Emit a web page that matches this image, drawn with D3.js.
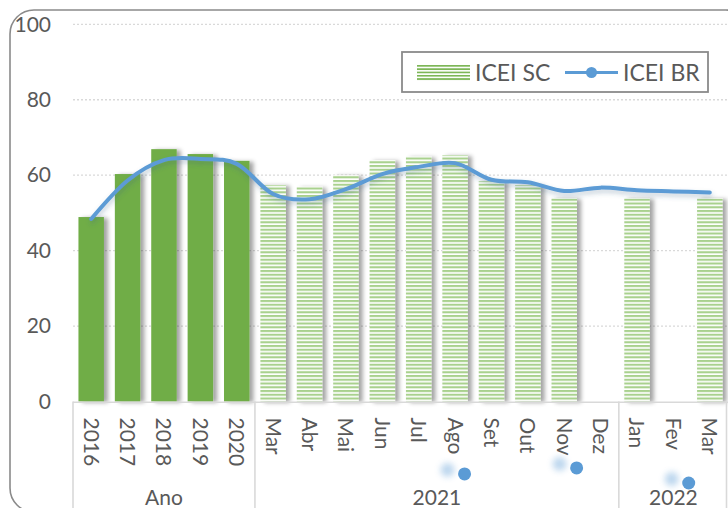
<!DOCTYPE html>
<html>
<head>
<meta charset="utf-8">
<script src="https://cdn.jsdelivr.net/npm/d3@7"></script>
<style>
  html, body { margin: 0; padding: 0; background: #fff; }
  svg { display: block; }
  text { font-family: Lato, "Open Sans", sans-serif; fill: #595959; }
</style>
</head>
<body>
<svg id="chart" width="728" height="508"></svg>
<script>
// Category labels along the x axis (annual values first, then monthly)
const categories = ["2016", "2017", "2018", "2019", "2020",
  "Mar", "Abr", "Mai", "Jun", "Jul", "Ago", "Set", "Out", "Nov", "Dez",
  "Jan", "Fev", "Mar"];

// Category groups of the two-level axis: label and number of categories
const groupLabels = ["Ano", "2021", "2022"];
const groupSizes = [5, 10, 3];

// ICEI SC (bars); null where there is no reading
const iceiSC = [48.9, 60.3, 66.9, 65.6, 63.8,
  57.4, 56.9, 60.0, 64.0, 64.9, 65.3, 58.4, 57.4, 53.9, null,
  53.9, null, 53.9];

// ICEI BR (smoothed line)
const iceiBR = [48.4, 58.6, 64.0, 64.3, 63.0,
  55.0, 53.6, 56.3, 60.3, 62.2, 63.2, 58.8, 58.1, 55.8, 56.7,
  56.0, 55.7, 55.4];

// Loose ICEI BR markers below the axis: fractional category position and value
const looseMarkerPos = [10.76, 13.84, 16.92];
const looseMarkerVal = [-19.2, -17.6, -21.6];

const yTicks = [0, 20, 40, 60, 80, 100];
const legendLabels = ["ICEI SC", "ICEI BR"];

const svg = d3.select("#chart");
const W = 728, H = 508;
const plot = { left: 73, right: 728, top: 24.3, bottom: 401.5 };

const blue = "#5B9BD5";
const green = "#70AD47";
const stripe = "#A9D18E";
const grid = "#D9D9D9";
const fontSize = 21;

const idx = d3.range(categories.length);
const x = d3.scaleBand().domain(idx).range([plot.left, plot.right])
  .paddingInner(0.3).paddingOuter(0.15);
const xPos = d3.scaleLinear().domain([0, categories.length])
  .range([plot.left, plot.right]);
const y = d3.scaleLinear().domain([0, 100]).range([plot.bottom, plot.top]);

// ---- definitions: stripes and shadows
const defs = svg.append("defs");
const pat = defs.append("pattern").attr("id", "hstripe")
  .attr("patternUnits", "userSpaceOnUse").attr("width", 8).attr("height", 3.75);
pat.append("rect").attr("width", 8).attr("height", 3.75).attr("fill", "#fff");
pat.append("rect").attr("width", 8).attr("height", 2.1).attr("fill", stripe);

const lpat = defs.append("pattern").attr("id", "hstripeLegend")
  .attr("patternUnits", "userSpaceOnUse").attr("width", 8).attr("height", 3.3)
  .attr("y", 65);
lpat.append("rect").attr("width", 8).attr("height", 3.3).attr("fill", "#fff");
lpat.append("rect").attr("width", 8).attr("height", 1.7).attr("fill", "#7DB657");

const bs = defs.append("filter").attr("id", "barShadow")
  .attr("x", "-20%").attr("y", "-10%").attr("width", "160%").attr("height", "130%");
bs.append("feDropShadow").attr("dx", 4).attr("dy", 1).attr("stdDeviation", 2.2)
  .attr("flood-color", "#000").attr("flood-opacity", 0.36);

const ls = defs.append("filter").attr("id", "lineShadow")
  .attr("x", "-10%").attr("y", "-30%").attr("width", "120%").attr("height", "160%");
ls.append("feDropShadow").attr("dx", 1).attr("dy", 3).attr("stdDeviation", 2.5)
  .attr("flood-color", "#3a5f80").attr("flood-opacity", 0.3);

const blur = defs.append("filter").attr("id", "softBlur")
  .attr("x", "-100%").attr("y", "-100%").attr("width", "300%").attr("height", "300%");
blur.append("feGaussianBlur").attr("stdDeviation", 3);

// ---- chart frame (right and lower edges run past the view)
svg.append("rect").attr("x", 10).attr("y", 10)
  .attr("width", 740).attr("height", 502).attr("rx", 24)
  .attr("fill", "#fff").attr("stroke", "#8A8A8A").attr("stroke-width", 1.6);

// ---- horizontal gridlines
svg.append("g").selectAll("line").data(yTicks.filter(d => d > 0)).join("line")
  .attr("x1", plot.left).attr("x2", plot.right)
  .attr("y1", d => y(d)).attr("y2", d => y(d))
  .attr("stroke", grid).attr("stroke-width", 1.3).attr("stroke-dasharray", "2,2");

// ---- y axis labels
const yAxis = d3.axisLeft(y).tickValues(yTicks).tickSize(0).tickPadding(0);
svg.append("g").attr("transform", "translate(51,0)").call(yAxis)
  .call(g => g.select(".domain").remove())
  .call(g => g.selectAll("text").attr("font-size", fontSize)
    .attr("font-family", "Lato, sans-serif").attr("fill", "#595959"));

// ---- bars
svg.append("g").selectAll("rect")
  .data(idx.filter(i => iceiSC[i] != null)).join("rect")
  .attr("x", i => x(i)).attr("width", x.bandwidth())
  .attr("y", i => y(iceiSC[i])).attr("height", i => y(0) - y(iceiSC[i]))
  .attr("fill", i => i < groupSizes[0] ? green : "url(#hstripe)")
  .attr("filter", "url(#barShadow)");

// ---- x axis: baseline, group separators, labels
svg.append("line").attr("x1", plot.left).attr("x2", plot.right)
  .attr("y1", plot.bottom + 0.8).attr("y2", plot.bottom + 0.8)
  .attr("stroke", grid).attr("stroke-width", 1.6);

const bounds = [0];
groupSizes.forEach(n => bounds.push(bounds[bounds.length - 1] + n));
svg.append("g").selectAll("line").data(bounds).join("line")
  .attr("x1", b => Math.min(xPos(b), W - 1.5)).attr("x2", b => Math.min(xPos(b), W - 1.5))
  .attr("y1", plot.bottom).attr("y2", H)
  .attr("stroke", grid).attr("stroke-width", 1.6);

const xAxis = d3.axisBottom(x).tickFormat(i => categories[i]).tickSize(0);
svg.append("g").attr("transform", `translate(0,${plot.bottom + 16})`).call(xAxis)
  .call(g => g.select(".domain").remove())
  .call(g => g.selectAll("text")
    .attr("font-size", fontSize).attr("font-family", "Lato, sans-serif").attr("fill", "#595959")
    .attr("text-anchor", "start")
    .attr("transform", "rotate(90)")
    .attr("x", 0).attr("y", 0).attr("dy", "0.36em"));

svg.append("g").selectAll("text").data(groupLabels).join("text")
  .attr("x", (d, i) => (xPos(bounds[i]) + xPos(bounds[i + 1])) / 2)
  .attr("y", 505).attr("text-anchor", "middle").attr("font-size", fontSize)
  .text(d => d);

// ---- ICEI BR smoothed line
const line = d3.line()
  .x(i => x(i) + x.bandwidth() / 2)
  .y(i => y(iceiBR[i]))
  .curve(d3.curveCardinal.tension(0));
svg.append("path").datum(idx).attr("d", line)
  .attr("fill", "none").attr("stroke", blue).attr("stroke-width", 4)
  .attr("stroke-linecap", "round").attr("filter", "url(#lineShadow)");

// ---- loose markers with their soft halos
const loose = d3.range(looseMarkerPos.length);
svg.append("g").selectAll("circle").data(loose).join("circle")
  .attr("cx", i => xPos(looseMarkerPos[i]) - 17)
  .attr("cy", i => y(looseMarkerVal[i]) - 4)
  .attr("r", 7).attr("fill", blue).attr("opacity", 0.4)
  .attr("filter", "url(#softBlur)");
svg.append("g").selectAll("circle").data(loose).join("circle")
  .attr("cx", i => xPos(looseMarkerPos[i]))
  .attr("cy", i => y(looseMarkerVal[i]))
  .attr("r", 6.5).attr("fill", blue);

// ---- legend
const lg = svg.append("g");
lg.append("rect").attr("x", 402).attr("y", 52).attr("width", 306).attr("height", 40)
  .attr("fill", "#fff").attr("stroke", "#8A8A8A").attr("stroke-width", 1.8);
lg.append("rect").attr("x", 417).attr("y", 65).attr("width", 53).attr("height", 16)
  .attr("fill", "url(#hstripeLegend)");
lg.append("text").attr("x", 475).attr("y", 80.5).attr("font-size", 23).text(legendLabels[0]);
lg.append("line").attr("x1", 565).attr("x2", 618).attr("y1", 72.5).attr("y2", 72.5)
  .attr("stroke", blue).attr("stroke-width", 3);
lg.append("circle").attr("cx", 591.5).attr("cy", 72.5).attr("r", 5.5).attr("fill", blue);
lg.append("text").attr("x", 623).attr("y", 80.5).attr("font-size", 23).text(legendLabels[1]);
</script>
</body>
</html>
